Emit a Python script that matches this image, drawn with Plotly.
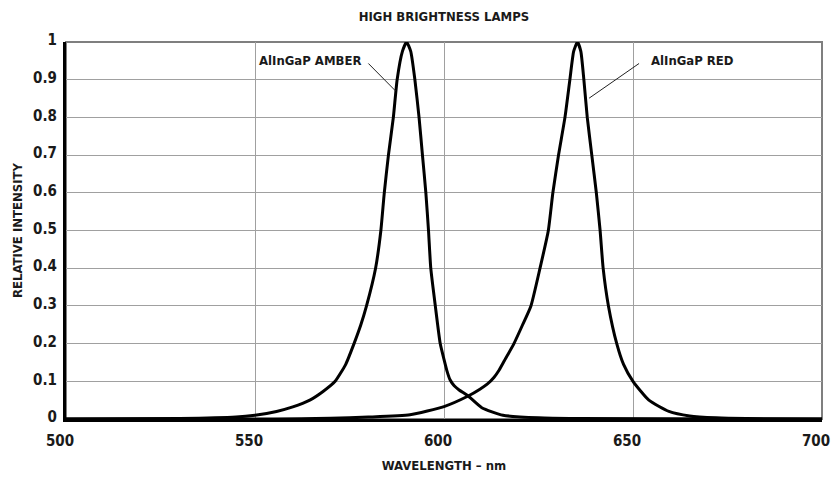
import plotly.graph_objects as go

# Wavelength (nm) and relative intensity
amber_nm = [500, 530, 545, 550, 555.7, 560, 564.5, 568, 571.2, 574, 576.2, 578, 579.5, 581.9, 583.3,
            584.2, 585.3, 586.6, 587.6, 589.0, 590.1, 591.2, 592.3, 593.4, 594.3, 595.2, 595.9,
            596.5, 597.7, 599.0, 600.0, 600.8, 601.6, 602.7, 604, 606.4, 610, 615.6, 625, 635, 700]
amber_val = [0.0, 0.001, 0.005, 0.01, 0.02, 0.032, 0.05, 0.073, 0.1, 0.145, 0.2, 0.25, 0.3, 0.4, 0.5,
             0.6, 0.7, 0.8, 0.9, 0.975, 1.0, 0.975, 0.9, 0.8, 0.7, 0.6, 0.5,
             0.4, 0.3, 0.2, 0.158, 0.127, 0.104, 0.088, 0.077, 0.061, 0.03, 0.01, 0.003, 0.001, 0.0]

red_nm = [500, 555, 570, 580, 591, 600, 606.4, 609.5, 611.5, 613.2, 614.6, 616.0, 618.5, 620.8, 623,
          625.4, 627.6, 628.8, 630.3, 632.0, 633.3, 634.3, 635.3, 636.2, 637.0, 637.9, 639.1, 640.3,
          641.3, 642.1, 643.5, 645.7, 647.5, 650, 654.2, 659.5, 665, 672, 680, 700]
red_val = [0.0, 0.0, 0.002, 0.005, 0.011, 0.033, 0.061, 0.079, 0.093, 0.11, 0.13, 0.155, 0.2, 0.25, 0.3,
           0.4, 0.5, 0.6, 0.7, 0.8, 0.9, 0.975, 1.0, 0.975, 0.9, 0.8, 0.7, 0.6,
           0.5, 0.4, 0.3, 0.2, 0.145, 0.1, 0.05, 0.02, 0.008, 0.003, 0.001, 0.0]

x_ticks = [500, 550, 600, 650, 700]
y_ticks = [0, 0.1, 0.2, 0.3, 0.4, 0.5, 0.6, 0.7, 0.8, 0.9, 1]
y_tick_text = ["0", "0.1", "0.2", "0.3", "0.4", "0.5", "0.6", "0.7", "0.8", "0.9", "1"]

# labels: text, text anchor (x, y), leader start (x, y), leader end on curve (x, y), xanchor
labels = [
    ("AlInGaP AMBER", 578.7, 0.950, 580.0, 0.943, 587.2, 0.87, "right"),
    ("AlInGaP RED", 654.3, 0.950, 651.6, 0.943, 638.4, 0.851, "left"),
]

FONT = "DejaVu Sans Condensed"

def f(size):
    return dict(family=FONT, size=size, color="#1a1a1a", weight="bold")

fig = go.Figure()
for xs, ys, nm in [(amber_nm, amber_val, "AMBER"), (red_nm, red_val, "RED")]:
    fig.add_trace(go.Scatter(x=xs, y=ys, mode="lines", name=nm,
                             line=dict(color="black", width=3, shape="spline", smoothing=0.5),
                             hoverinfo="skip"))

fig.add_shape(type="rect", xref="paper", yref="paper", x0=0, x1=1, y0=0, y1=1,
              line=dict(color="#7f7f7f", width=2), layer="below")

for text, tx, ty, lx0, ly0, lx1, ly1, anc in labels:
    fig.add_shape(type="line", x0=lx0, y0=ly0, x1=lx1, y1=ly1,
                  line=dict(color="#222222", width=1))
    fig.add_annotation(x=tx, y=ty, text=text, showarrow=False, xanchor=anc, yanchor="middle",
                       font=f(13))

fig.update_layout(
    width=833, height=477,
    margin=dict(l=66, r=11, t=42, b=58),
    paper_bgcolor="white", plot_bgcolor="white",
    showlegend=False,
    font=f(15),
    title=dict(text="HIGH BRIGHTNESS LAMPS", x=0.533, xanchor="center", y=0.965, yanchor="middle",
               font=f(13)),
)
fig.update_xaxes(range=[500, 700], tickvals=x_ticks, ticktext=[str(v) for v in x_ticks],
                 showgrid=True, gridcolor="#a0a0a0", gridwidth=1, automargin=False,
                 showline=True, linecolor="black", linewidth=3, zeroline=False,
                 ticks="", ticklabelstandoff=6, ticklabelshift=-6, ticklabeloverflow="allow",
                 tickfont=f(15),
                 title=dict(text="WAVELENGTH – nm", standoff=12, font=f(13)))
fig.update_yaxes(range=[0, 1], tickvals=y_ticks, ticktext=y_tick_text,
                 showgrid=True, gridcolor="#a0a0a0", gridwidth=1, automargin=False,
                 showline=True, linecolor="black", linewidth=3, zeroline=False,
                 ticks="", ticklabelstandoff=3, ticklabelshift=-2, tickfont=f(15),
                 title=dict(text="RELATIVE INTENSITY", standoff=8, font=f(13)))

fig.write_html("out.html", config={"displayModeBar": False, "staticPlot": True},
               post_script="document.body.style.margin='0';document.body.style.overflow='hidden';")
